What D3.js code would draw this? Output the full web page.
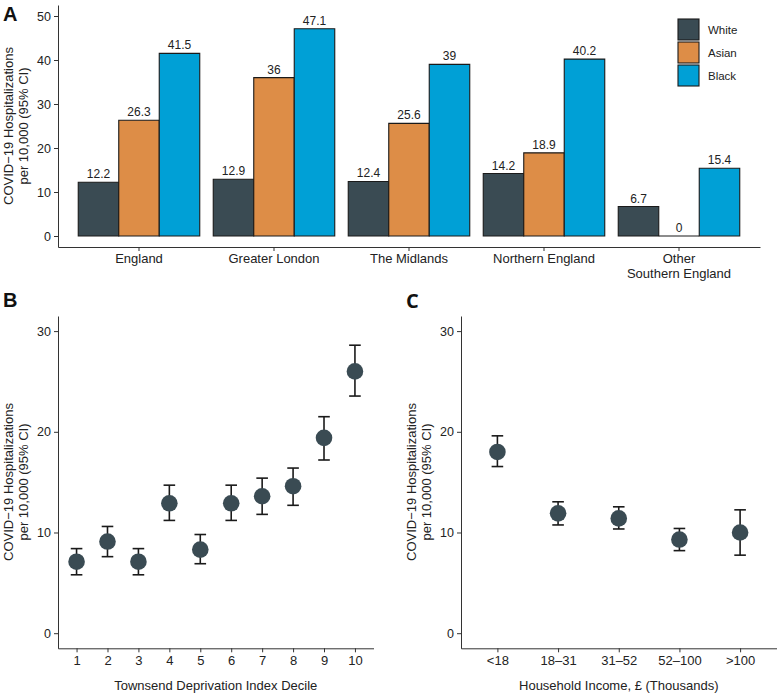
<!DOCTYPE html>
<html>
<head>
<meta charset="utf-8">
<script src="https://cdn.jsdelivr.net/npm/d3@7"></script>
<style>
  html, body { margin: 0; padding: 0; background: #fff; }
  svg { display: block; font-family: "Liberation Sans", Arial, Helvetica, sans-serif; }
</style>
</head>
<body>
<svg id="chart" width="778" height="694"></svg>
<script>
// ---------- Data ----------
const regionsA = ["England", "Greater London", "The Midlands", "Northern England", "Other\nSouthern England"];
const ethnicGroups = ["White", "Asian", "Black"];
const whiteA = [12.2, 12.9, 12.4, 14.2, 6.7];
const asianA = [26.3, 36, 25.6, 18.9, 0];
const blackA = [41.5, 47.1, 39, 40.2, 15.4];
const yTicksA = [0, 10, 20, 30, 40, 50];

const decilesB = ["1", "2", "3", "4", "5", "6", "7", "8", "9", "10"];
const rateB = [7.1, 9.1, 7.1, 12.9, 8.3, 12.9, 13.6, 14.6, 19.4, 26.0];
const lowB  = [5.8, 7.6, 5.8, 11.2, 6.9, 11.2, 11.8, 12.7, 17.2, 23.55];
const highB = [8.4, 10.6, 8.4, 14.7, 9.8, 14.7, 15.4, 16.4, 21.5, 28.6];

const incomeC = ["<18", "18\u201331", "31\u201352", "52\u2013100", ">100"];
const rateC = [18.0, 11.9, 11.4, 9.3, 10.0];
const lowC  = [16.55, 10.75, 10.35, 8.2, 7.75];
const highC = [19.6, 13.05, 12.55, 10.4, 12.25];
const yTicksBC = [0, 10, 20, 30];

// ---------- Styles ----------
const colors = { White: "#3a4b53", Asian: "#dd8d47", Black: "#00a0d6" };
const pointColor = "#3a4b53";
const textColor = "#222";
const axisColor = "#333";

const svg = d3.select("#chart");
svg.append("rect").attr("width", 778).attr("height", 694).attr("fill", "#fff");

function styleAxis(g, fontSize) {
  g.selectAll(".domain").attr("stroke", axisColor).attr("stroke-width", 1);
  g.selectAll(".tick line").attr("stroke", axisColor).attr("stroke-width", 1);
  g.selectAll(".tick text").attr("fill", textColor).attr("font-size", fontSize)
    .attr("font-family", "Liberation Sans, Arial, sans-serif");
}

function yTitle(x, yc) {
  const t = svg.append("text")
    .attr("transform", `translate(${x},${yc}) rotate(-90)`)
    .attr("text-anchor", "middle").attr("font-size", 13).attr("fill", textColor);
  t.append("tspan").attr("x", 0).attr("dy", 0).text("COVID\u221219 Hospitalizations");
  t.append("tspan").attr("x", 0).attr("dy", 14.5).text("per 10,000 (95% CI)");
}

// ---------- Panel A ----------
const xA = d3.scaleBand().domain(regionsA).range([58, 760]).paddingInner(0.1).paddingOuter(0.15);
const xA1 = d3.scaleBand().domain(ethnicGroups).range([0, xA.bandwidth()]);
const yA = d3.scaleLinear().domain([-2.5, 52.5]).range([247, 5]);

const seriesA = { White: whiteA, Asian: asianA, Black: blackA };
const barData = [];
regionsA.forEach((r, i) => ethnicGroups.forEach(g => barData.push({ region: r, group: g, value: seriesA[g][i] })));

const gA = svg.append("g");
gA.selectAll("path.bar").data(barData).enter().append("path")
  .attr("class", "bar")
  .attr("d", d => {
    const x0 = xA(d.region) + xA1(d.group), x1 = x0 + xA1.bandwidth();
    const y0 = yA(0), y1 = yA(d.value);
    return `M${x0},${y0}V${y1}H${x1}V${y0}Z`;
  })
  .attr("fill", d => colors[d.group])
  .attr("stroke", "#1a1a1a").attr("stroke-width", 1.1);

gA.selectAll("text.val").data(barData).enter().append("text")
  .attr("class", "val")
  .attr("x", d => xA(d.region) + xA1(d.group) + xA1.bandwidth() / 2)
  .attr("y", d => yA(d.value) - 4)
  .attr("text-anchor", "middle").attr("font-size", 12).attr("fill", textColor)
  .text(d => d3.format("")(d.value));

const axA_y = svg.append("g").attr("transform", "translate(58,0)")
  .call(d3.axisLeft(yA).tickValues(yTicksA).tickSize(4).tickPadding(3).tickSizeOuter(0));
styleAxis(axA_y, 12.5);

const axA_x = svg.append("g").attr("transform", "translate(0,247)")
  .call(d3.axisBottom(xA).tickSize(4).tickPadding(3).tickSizeOuter(0));
styleAxis(axA_x, 13);
axA_x.selectAll(".tick text").each(function(d) {
  const lines = d.split("\n");
  const t = d3.select(this).text(null);
  lines.forEach((l, i) => t.append("tspan").attr("x", 0).attr("dy", i === 0 ? "0.71em" : 15).text(l));
}).attr("dy", null);

yTitle(13, 126);

// Legend
const legend = svg.append("g").attr("transform", "translate(678,19)");
ethnicGroups.forEach((g, i) => {
  legend.append("rect").attr("x", 0).attr("y", i * 23).attr("width", 21).attr("height", 21)
    .attr("fill", colors[g]).attr("stroke", "#1a1a1a").attr("stroke-width", 1.1);
  legend.append("text").attr("x", 30).attr("y", i * 23 + 10.5).attr("dy", "0.35em")
    .attr("font-size", 11.5).attr("fill", textColor).text(g);
});

// ---------- Panel B & C helper ----------
function pointPanel(cats, rate, low, high, xRange, xTitle) {
  const x = d3.scalePoint().domain(cats).range(xRange).padding(0.6);
  const y = d3.scaleLinear().domain([-1.5, 31.5]).range([648.3, 316]);
  const g = svg.append("g");
  const data = cats.map((c, i) => ({ c, v: rate[i], lo: low[i], hi: high[i] }));
  const cap = 5.8;
  const eb = g.selectAll("g.eb").data(data).enter().append("g")
    .attr("stroke", "#1a1a1a").attr("stroke-width", 1.6);
  eb.append("line").attr("x1", d => x(d.c)).attr("x2", d => x(d.c)).attr("y1", d => y(d.lo)).attr("y2", d => y(d.hi));
  eb.append("line").attr("x1", d => x(d.c) - cap).attr("x2", d => x(d.c) + cap).attr("y1", d => y(d.lo)).attr("y2", d => y(d.lo));
  eb.append("line").attr("x1", d => x(d.c) - cap).attr("x2", d => x(d.c) + cap).attr("y1", d => y(d.hi)).attr("y2", d => y(d.hi));
  g.selectAll("circle").data(data).enter().append("circle")
    .attr("cx", d => x(d.c)).attr("cy", d => y(d.v)).attr("r", 8.3).attr("fill", pointColor);

  const ay = svg.append("g").attr("transform", `translate(${xRange[0]},0)`)
    .call(d3.axisLeft(y).tickValues(yTicksBC).tickSize(4).tickPadding(3).tickSizeOuter(0));
  styleAxis(ay, 12.5);
  const ax = svg.append("g").attr("transform", "translate(0,648.3)")
    .call(d3.axisBottom(x).tickSize(4).tickPadding(3).tickSizeOuter(0));
  styleAxis(ax, 13);
  svg.append("text").attr("x", (xRange[0] + xRange[1]) / 2).attr("y", 690)
    .attr("text-anchor", "middle").attr("font-size", 13).attr("fill", textColor).text(xTitle);
}

pointPanel(decilesB, rateB, lowB, highB, [58, 373.5], "Townsend Deprivation Index Decile");
yTitle(13, 482);
pointPanel(incomeC, rateC, lowC, highC, [461, 776.5], "Household Income, \u00a3 (Thousands)");
yTitle(416, 482);

// Panel letters
svg.append("text").attr("x", 3).attr("y", 21).attr("font-size", 20).attr("font-weight", "bold").attr("fill", "#111").text("A");
svg.append("text").attr("x", 3).attr("y", 307).attr("font-size", 20).attr("font-weight", "bold").attr("fill", "#111").text("B");
svg.append("text").attr("x", 406).attr("y", 308).attr("font-size", 20).attr("font-weight", "bold").attr("fill", "#111")
  .attr("font-family", "Open Sans, Lato, sans-serif").text("C");
</script>
</body>
</html>
